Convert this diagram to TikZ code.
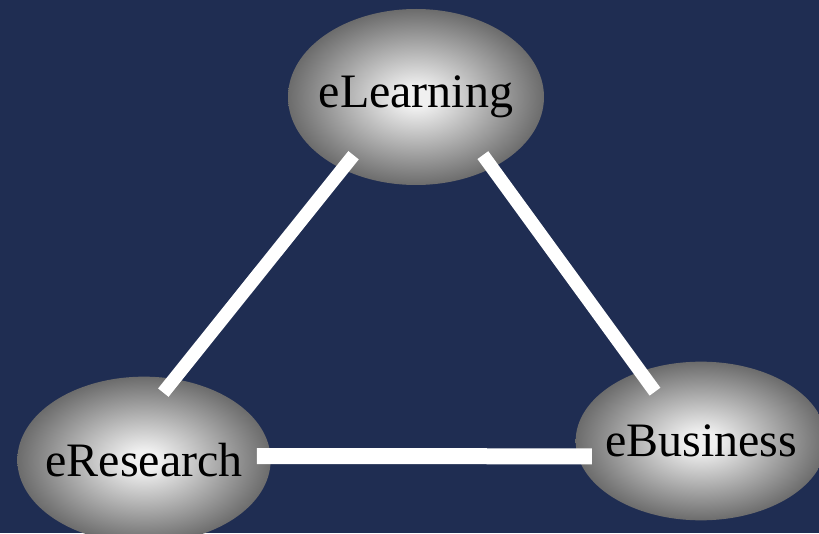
\documentclass[tikz,border=0pt]{standalone}
\usepackage{xcolor}
\usepackage{fontspec}
\setmainfont{Liberation Serif}
\usepackage{tikz}
\usetikzlibrary{shapes.geometric, calc}

\definecolor{navy}{HTML}{1F2D52}
\definecolor{ballin}{RGB}{240,240,240}
\definecolor{ballout}{RGB}{108,108,108}
\pgfdeclareradialshading{ball}{\pgfpoint{0bp}{0bp}}{color(0bp)=(ballin); color(3bp)=(ballin); color(25bp)=(ballout); color(50bp)=(ballout)}

\begin{document}
\begin{tikzpicture}[x=0.75pt, y=0.75pt]
\tikzstyle{ballnode} = [ellipse, shading=ball, inner ysep=0pt, inner xsep=-20pt, font=\fontsize{36}{40}\selectfont]
\tikzstyle{link} = [white, line width=10pt]

\fill[navy] (0,0) rectangle (819,533);
\useasboundingbox (0,0) rectangle (819,533);

\node (learn) [ballnode, minimum width=192pt, minimum height=132pt] at (416,436) {eLearning};
\node (research) [ballnode, minimum width=190pt, minimum height=125pt] at (144,73) {eResearch};
\node (business) [ballnode, minimum width=188pt, minimum height=119pt] at (701,92) {eBusiness};

% links overlap the balls
\draw[link] ($(learn)!.82!(learn.223)$) -- ($(research)!.82!(research.74)$);
\draw[link] ($(learn)!.84!(learn.319)$) -- ($(business)!.72!(business.133)$);
\draw[link, line width=12pt] ($(research)!.89!(research.2)$) -- ($(business)!.89!(business.188)$);

\end{tikzpicture}
\end{document}
